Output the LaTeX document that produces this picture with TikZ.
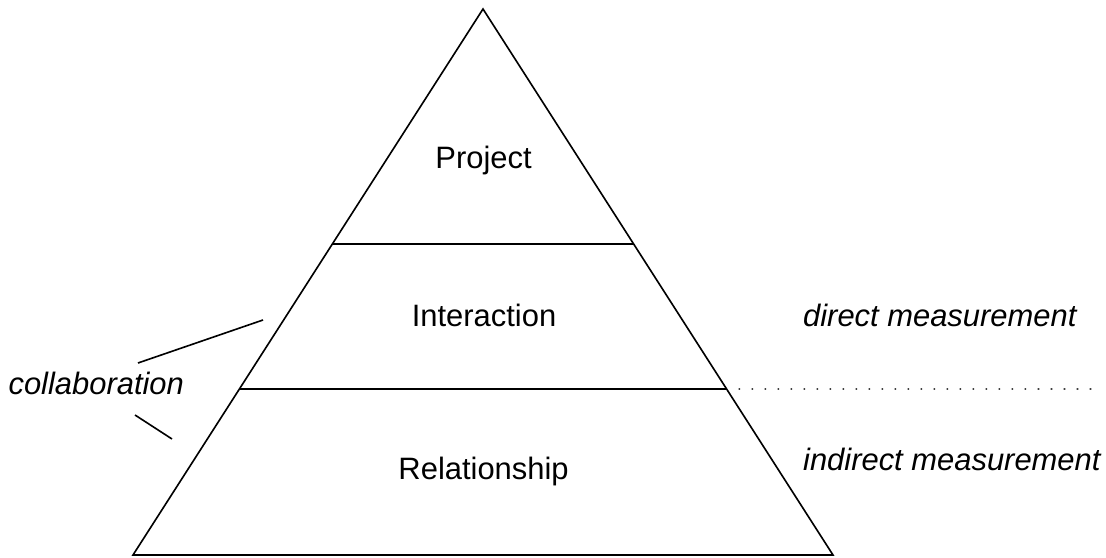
\documentclass[tikz,border=0pt]{standalone}
\usepackage{fontspec}
\setmainfont{Liberation Sans}
\usetikzlibrary{calc, positioning}

\begin{document}
\begin{tikzpicture}[
        every node/.style={font=\fontsize{44}{53}\selectfont, inner sep=0pt},
        layer/.style={anchor=base},
        remark/.style={anchor=base west, font=\fontsize{44}{53}\selectfont\itshape},
        edge/.style={line width=2.3pt}]
        \useasboundingbox (0,0) rectangle (55.3,27.85);
        \coordinate (apex) at (24.15,27.4);
        \coordinate (baseL) at (6.65,0.1);
        \coordinate (baseR) at (41.65,0.1);
        \draw[edge] (apex) -- (baseL) -- (baseR) -- cycle;
        \foreach \t/\n in {0.4304/upper, 0.696/lower} {
            \coordinate (\n L) at ($(apex)!\t!(baseL)$);
            \coordinate (\n R) at ($(apex)!\t!(baseR)$);
            \draw[edge] (\n L) -- (\n R);
        }
        \node[layer] (project) at (24.18,19.43) {Project};
        \node[layer] (interaction) at (24.2,11.5) {Interaction};
        \node[layer] (relationship) at (24.18,3.85) {Relationship};
        \node[remark] (direct) at (40.15,11.5) {direct measurement};
        \node[remark] (indirect) at (40.15,4.3) {indirect measurement};
        \node[remark] (collab) at (0.42,8.1) {collaboration};
        \coordinate (dotA) at ($(lowerR)+(0.6,0)$);
        \coordinate (dotB) at (54.85,8.4);
        \draw[line width=2.2pt, black!75, dash pattern=on 2.2pt off 16.3pt] (dotA) -- (dotB);
        \coordinate (c1a) at (6.9,9.7);
        \coordinate (c1b) at (13.15,11.85);
        \coordinate (c2a) at (6.75,7.1);
        \coordinate (c2b) at (8.6,5.9);
        \draw[edge] (c1a) -- (c1b);
        \draw[edge] (c2a) -- (c2b);
    \end{tikzpicture}
\end{document}
